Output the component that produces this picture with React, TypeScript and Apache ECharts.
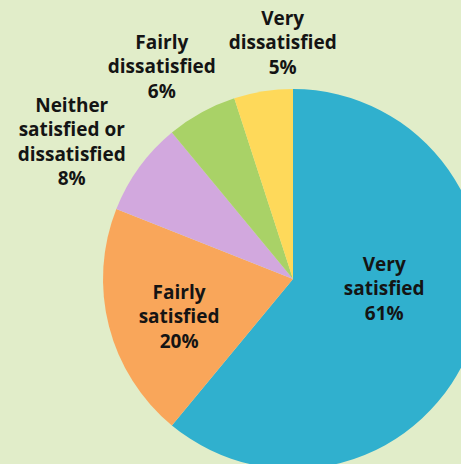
import React, { useEffect, useRef } from "react";
import * as echarts from "echarts";

const categories = [
  "Very\nsatisfied",
  "Fairly\nsatisfied",
  "Neither\nsatisfied or\ndissatisfied",
  "Fairly\ndissatisfied",
  "Very\ndissatisfied",
];
const percentValues = [61, 20, 8, 6, 5];
const sliceColors = ["#30b0ce", "#f9a65a", "#d2a8de", "#a9d267", "#fed95a"];
// label offsets relative to the slice's default inside position
const labelOffsets = [
  [-1, -24],
  [-19, 13],
  [-142, -80],
  [-84, -127],
  [5, -140],
];

export default function App() {
  const ref = useRef<HTMLDivElement>(null);
  useEffect(() => {
    if (!ref.current) return;
    const chart = echarts.init(ref.current, null, { renderer: "svg" });
    chart.setOption({
      animation: false,
      backgroundColor: "#e1edc9",
      series: [
        {
          type: "pie",
          center: [293, 279],
          radius: 190,
          startAngle: 90,
          clockwise: true,
          avoidLabelOverlap: false,
          data: categories.map((name, i) => ({
            name,
            value: percentValues[i],
            itemStyle: { color: sliceColors[i] },
          })),
          label: {
            show: true,
            position: "inside",
            formatter: "{b}\n{c}%",
            color: "#141414",
            fontFamily: "'Open Sans', sans-serif",
            fontWeight: "bold",
            fontSize: 19,
            lineHeight: 24.5,
            align: "center",
          },
          labelLine: { show: false },
          labelLayout: (params: any) => ({
            dx: labelOffsets[params.dataIndex][0],
            dy: labelOffsets[params.dataIndex][1],
          }),
          emphasis: { disabled: true },
        },
      ],
    });
    return () => chart.dispose();
  }, []);
  return (
    <div
      ref={ref}
      style={{ position: "fixed", left: 0, top: 0, width: 461, height: 464 }}
    />
  );
}
